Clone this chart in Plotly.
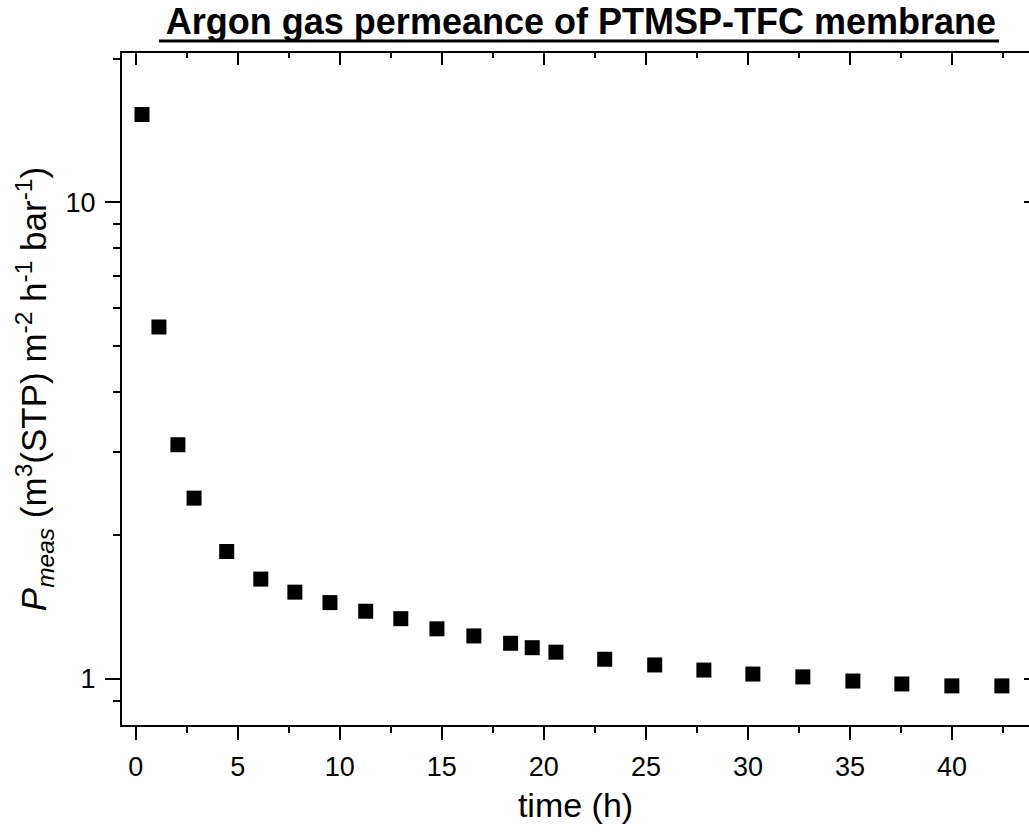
import plotly.graph_objects as go

# ---- data ----
time_h = [0.31, 1.14, 2.07, 2.86, 4.46, 6.13, 7.80, 9.52, 11.27, 12.99, 14.76, 16.57,
          18.37, 19.43, 20.59, 22.98, 25.43, 27.84, 30.24, 32.69, 35.14, 37.54, 39.99, 42.44]
permeance = [15.28, 5.475, 3.10, 2.395, 1.851, 1.620, 1.521, 1.446, 1.387, 1.338, 1.274, 1.231,
             1.188, 1.163, 1.138, 1.100, 1.070, 1.044, 1.024, 1.010, 0.990, 0.976, 0.967, 0.967]

x_major = [0, 5, 10, 15, 20, 25, 30, 35, 40]
x_minor = [2.5, 7.5, 12.5, 17.5, 22.5, 27.5, 32.5, 37.5, 42.5]
y_major = [1, 10]
y_major_text = ["1", "10"]
y_minor = [0.8, 0.9, 2, 3, 4, 5, 6, 7, 8, 9, 20]

x_range = [-0.67, 43.77]
y_range = [-0.0966, 1.3132]

title_text = "Argon gas permeance of PTMSP-TFC membrane"
x_title = "time (h)"
y_title = ("<i>P</i><sub><i>meas</i></sub> (m<sup>3</sup>(STP) m<sup>-2</sup> "
           "h<sup>-1</sup> bar<sup>-1</sup>)")

FONT = "Arial, Liberation Sans, sans-serif"

fig = go.Figure()
fig.add_trace(go.Scatter(
    x=time_h, y=permeance, mode="markers",
    marker=dict(symbol="square", size=15, color="black", line=dict(width=0)),
    showlegend=False, hoverinfo="x+y"))
# dummy trace on mirror axes so they get drawn
fig.add_trace(go.Scatter(x=[None], y=[None], xaxis="x2", yaxis="y2",
                         showlegend=False, hoverinfo="skip"))

fig.update_layout(
    width=1029, height=835,
    margin=dict(l=122, r=0, t=53, b=110, pad=0),
    paper_bgcolor="white", plot_bgcolor="white",
    font=dict(family=FONT, color="black"),
    title=dict(
        text="<b>" + title_text + "</b>",
        font=dict(family=FONT, size=36, color="black"),
        xref="paper", x=0.506, xanchor="center", y=0.990, yanchor="top"),
    xaxis=dict(
        range=x_range, showgrid=False, zeroline=False,
        showline=True, linecolor="black", linewidth=2,
        ticks="outside", ticklen=13, tickwidth=2, tickcolor="black",
        tickmode="array", tickvals=x_major, ticklabelstandoff=4,
        tickfont=dict(family=FONT, size=27, color="black"),
        minor=dict(tickmode="array", tickvals=x_minor, ticks="outside",
                   ticklen=6, tickwidth=2, tickcolor="black", showgrid=False),
        title=dict(text=x_title, font=dict(family=FONT, size=34, color="black"),
                   standoff=12),
    ),
    xaxis2=dict(
        range=x_range, overlaying="x", side="top", anchor="y",
        showgrid=False, zeroline=False, showticklabels=False,
        showline=True, linecolor="black", linewidth=2,
        ticks="inside", ticklen=12, tickwidth=2, tickcolor="black",
        tickmode="array", tickvals=x_major,
        minor=dict(tickmode="array", tickvals=x_minor, ticks="inside",
                   ticklen=5, tickwidth=2, tickcolor="black", showgrid=False),
    ),
    yaxis=dict(
        type="log", range=y_range, showgrid=False, zeroline=False,
        showline=True, linecolor="black", linewidth=2,
        ticks="outside", ticklen=15, tickwidth=2, tickcolor="black",
        tickmode="array", tickvals=y_major, ticktext=y_major_text,
        ticklabelstandoff=4,
        tickfont=dict(family=FONT, size=27, color="black"),
        minor=dict(tickmode="array", tickvals=y_minor, ticks="outside",
                   ticklen=7, tickwidth=2, tickcolor="black", showgrid=False),
        title=dict(text=y_title, font=dict(family=FONT, size=35, color="black"),
                   standoff=8),
    ),
    yaxis2=dict(
        type="log", range=y_range, overlaying="y", side="right", anchor="x",
        showgrid=False, zeroline=False, showticklabels=False, showline=False,
        ticks="inside", ticklen=5, tickwidth=2, tickcolor="black",
        tickmode="array", tickvals=y_major,
    ),
    shapes=[dict(type="line", xref="paper", yref="paper",
                 x0=0.0408, x1=0.967, y0=1.0 + 12/672, y1=1.0 + 12/672,
                 line=dict(color="black", width=3))],
)

fig.write_html("out.html")
